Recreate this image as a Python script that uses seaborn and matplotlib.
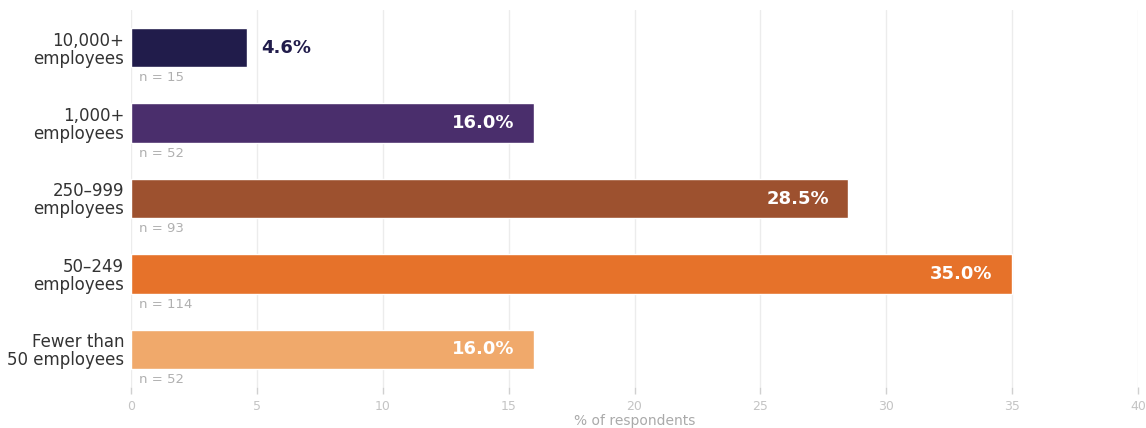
import matplotlib
matplotlib.use("Agg")
import matplotlib.pyplot as plt
import seaborn as sns
import pandas as pd

categories = ["10,000+\nemployees", "1,000+\nemployees", "250–999\nemployees",
              "50–249\nemployees", "Fewer than\n50 employees"]
shares = [4.6, 16.0, 28.5, 35.0, 16.0]
counts = [15, 52, 93, 114, 52]
colors = ["#211c4b", "#4a2e6c", "#9d512f", "#e6722a", "#f0a96b"]

df = pd.DataFrame({"size": categories, "share": shares, "n": counts})

sns.set_theme(style="white")
plt.rcParams["font.family"] = ["DejaVu Sans"]

fig = plt.figure(figsize=(11.46, 4.28), dpi=100)
ax = fig.add_axes([131 / 1146, 1 - 387 / 428, (1138 - 131) / 1146, (387 - 10) / 428])

sns.barplot(data=df, x="share", y="size", hue="size", palette=colors,
            saturation=1, orient="h", width=0.52, legend=False, ax=ax, zorder=2)

ax.set_xlim(0, 40)
ax.set_ylim(4.5, -0.5)
ax.set_xticks(range(0, 41, 5))
ax.grid(axis="x", color="#ececec", linewidth=1, zorder=0)
ax.set_axisbelow(True)
for s in ax.spines.values():
    s.set_visible(False)

ax.tick_params(axis="x", bottom=True, colors="#d0d0d0", labelsize=9, length=5,
               width=1, pad=4, labelcolor="#c4c4c4")
ax.tick_params(axis="y", length=0, labelsize=12, labelcolor="#333333", pad=5)
for lab in ax.get_yticklabels():
    lab.set_linespacing(1.0)
ax.set_xlabel("% of respondents", color="#aaaaaa", fontsize=10, labelpad=1)
ax.set_ylabel("")

for i, (v, n) in enumerate(zip(shares, counts)):
    label = f"{v:.1f}%"
    if v < 8:
        ax.annotate(label, (v, i), xytext=(10, 0), textcoords="offset points",
                    ha="left", va="center", fontsize=13, fontweight="bold",
                    color=colors[i])
    else:
        ax.annotate(label, (v, i), xytext=(-14, 0), textcoords="offset points",
                    ha="right", va="center", fontsize=13, fontweight="bold",
                    color="white")
    ax.annotate(f"n = {n}", (0, i + 0.4), xytext=(6, 0), textcoords="offset points",
                ha="left", va="center", fontsize=9.5, color="#b0b0b0")

fig.savefig("out.png", dpi=100)
